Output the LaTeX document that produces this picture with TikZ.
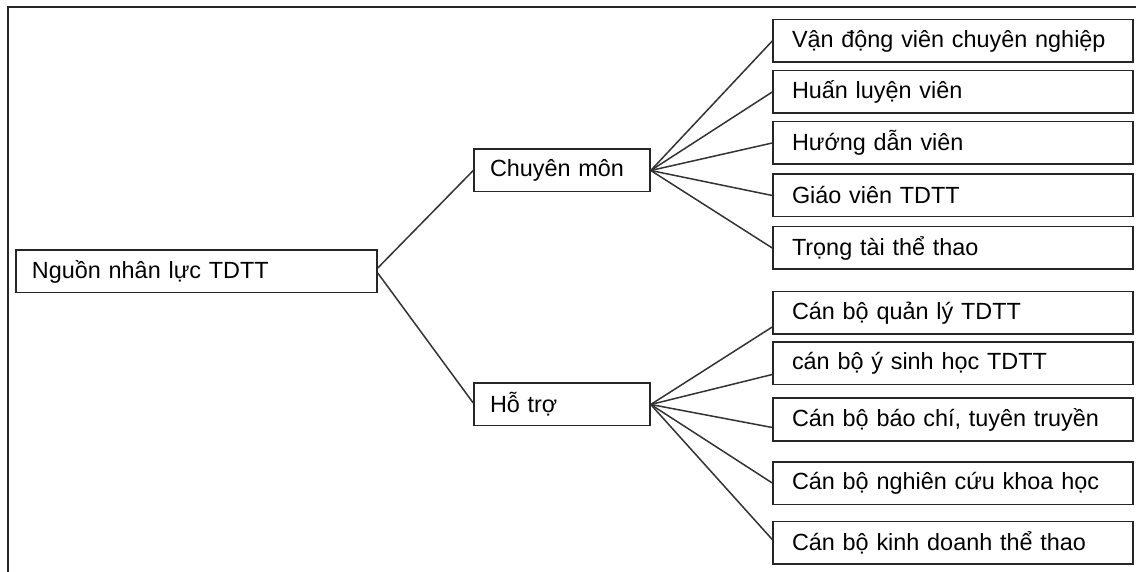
\documentclass[tikz,border=0pt]{standalone}
\usepackage{fontspec}
\setmainfont{Liberation Sans}
\begin{document}
\begin{tikzpicture}[x=0.5pt,y=-0.5pt,
  box/.style={draw=black!85, line width=0.75pt, align=left, inner ysep=0pt,
    minimum height=21.25pt, font=\fontsize{11.7}{13.5}\selectfont},
  rootbox/.style={box, inner xsep=8pt, text width=164.5pt},
  midbox/.style={box, inner xsep=8pt, text width=72pt},
  leafbox/.style={box, inner xsep=9.5pt, text width=161pt},
  link/.style={draw=black!80, line width=0.75pt},
  frame/.style={draw=black!85, line width=1pt}]
\useasboundingbox (0,0) rectangle (1136,572);
\coordinate (fb) at (8,572);
\coordinate (ft) at (8,7);
\coordinate (fr) at (1136,7);
\draw[frame] (fb) -- (ft) -- (fr);

\node[rootbox] (root) at (196.5,271.5) {Nguồn nhân lực TDTT};
\node[midbox] (cm) at (562,170.5) {Chuyên môn};
\node[midbox] (ht) at (562,404.5) {Hỗ trợ};

\node[leafbox] (a1) at (953,41) {Vận động viên chuyên nghiệp};
\node[leafbox] (a2) at (953,92) {Huấn luyện viên};
\node[leafbox] (a3) at (953,143) {Hướng dẫn viên};
\node[leafbox] (a4) at (953,195.5) {Giáo viên TDTT};
\node[leafbox] (a5) at (953,248) {Trọng tài thể thao};

\node[leafbox] (b1) at (953,313) {Cán bộ quản lý TDTT};
\node[leafbox] (b2) at (953,363.5) {cán bộ ý sinh học TDTT};
\node[leafbox] (b3) at (953,419.5) {Cán bộ báo chí, tuyên truyền};
\node[leafbox] (b4) at (953,483) {Cán bộ nghiên cứu khoa học};
\node[leafbox] (b5) at (953,542.5) {Cán bộ kinh doanh thể thao};

\draw[link] ([yshift=1.75pt]root.east) -- (cm.west);
\draw[link] ([yshift=-0.75pt]root.east) -- ([yshift=0.75pt]ht.west);

\foreach \n in {a1,a2,a3,a4,a5}
  \draw[link] (cm.east) -- (\n.west);

\draw[link] (ht.east) -- ([yshift=-7pt]b1.west);
\draw[link] (ht.east) -- ([yshift=-5.5pt]b2.west);
\draw[link] (ht.east) -- ([yshift=-4pt]b3.west);
\draw[link] (ht.east) -- (b4.west);
\draw[link] (ht.east) -- ([yshift=1.5pt]b5.west);
\end{tikzpicture}
\end{document}
